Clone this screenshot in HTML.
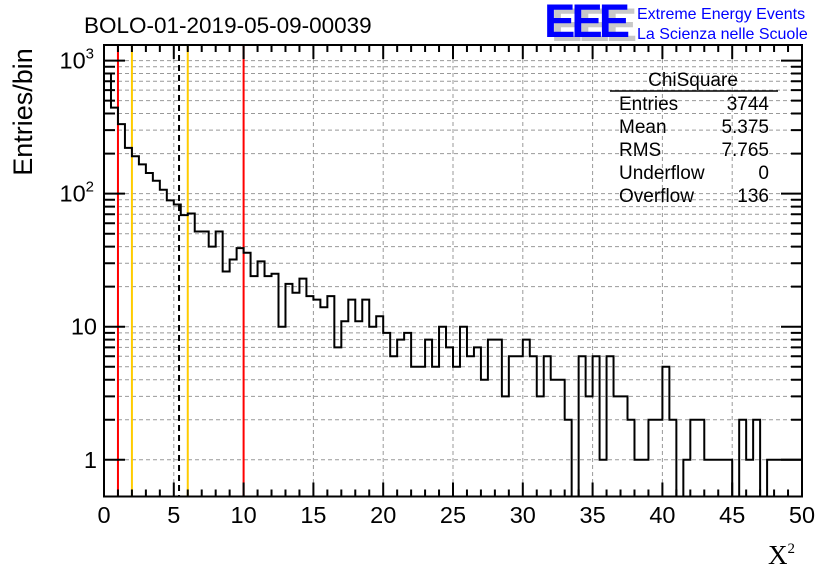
<!DOCTYPE html>
<html><head><meta charset="utf-8"><style>
html,body{margin:0;padding:0;background:#fff;}
svg{display:block;font-family:"Liberation Sans",sans-serif;}
</style></head><body>
<svg id="chart" width="836" height="572" viewBox="0 0 836 572">
<text x="84" y="33" font-size="22.5">BOLO-01-2019-05-09-00039</text>
<g>
<text x="551" y="41" font-size="47" font-weight="bold" fill="#c8c8c8" letter-spacing="-4">EEE</text>
<text x="544" y="37" font-size="47" font-weight="bold" fill="#0000ff" letter-spacing="-4">EEE</text>
<text x="637" y="19" font-size="16" fill="#0000ff">Extreme Energy Events</text>
<text x="637" y="39" font-size="16" fill="#0000ff">La Scienza nelle Scuole</text>
</g>
<g id="grid"></g>
<g id="vlines"></g>
<g id="hist"></g>
<g id="axes"></g>
<g font-size="19">
<text x="693" y="86" text-anchor="middle">ChiSquare</text>
<line x1="610" y1="91" x2="778" y2="91" stroke="#000" stroke-width="1.5"/>
<text x="619" y="110">Entries</text><text x="769" y="110" text-anchor="end">3744</text>
<text x="619" y="133">Mean</text><text x="769" y="133" text-anchor="end">5.375</text>
<text x="619" y="156">RMS</text><text x="769" y="156" text-anchor="end">7.765</text>
<text x="619" y="179">Underflow</text><text x="769" y="179" text-anchor="end">0</text>
<text x="619" y="202">Overflow</text><text x="769" y="202" text-anchor="end">136</text>
</g>
<text transform="translate(32,112) rotate(-90)" text-anchor="middle" font-size="27">Entries/bin</text>
<text x="768" y="564" font-size="27" font-family="Liberation Serif,serif">X<tspan font-size="15" dy="-11">2</tspan></text>
</svg>
<script>
const binCounts = [800,443,333,221,191,166,143,125,107,89,83,69,71,52,52,40,52,26,32,39,36,24,31,24,25,10,21,18,23,17,16,14,17,7,11,16,11,16,10,12,9,6,8,9,5,5,8,5,10,7,5,10,6,7,4,8,8,3,6,6,8,6,3,6,4,4,2,0,6,3,6,1,6,3,3,2,1,1,2,2,5,2,0,1,2,2,1,1,1,1,0,2,1,2,0,1,1,1,1,1];
const binWidth = [0.5];
const xTicks = [0,5,10,15,20,25,30,35,40,45,50];
const yTicks = [1,10,100,1000];
const yTickLabels = ["1","10","10²","10³"];
const markerLines = [[1,"#ff0000"],[2,"#ffcc00"],[5.375,"#000000"],[6,"#ffcc00"],[10,"#ff0000"]];

const L=104,R=802,T=45,B=496.5,X0=0,X1=50,YMIN=0.53,YMAX=1310;
const NS="http://www.w3.org/2000/svg";
const sx=v=>L+(v-X0)/(X1-X0)*(R-L);
const sy=v=>B-(Math.log10(v)-Math.log10(YMIN))/(Math.log10(YMAX)-Math.log10(YMIN))*(B-T);
function mk(tag,attrs,parent){const e=document.createElementNS(NS,tag);for(const k in attrs)e.setAttribute(k,attrs[k]);document.getElementById(parent).appendChild(e);return e;}

for(const t of xTicks){ if(t===X0||t===X1)continue;
 const g=mk('line',{x1:sx(t),x2:sx(t),y1:T,y2:B,stroke:'#999','stroke-width':1,'stroke-dasharray':'4,3'},'grid');
 
 }
for(let d=0;d<=3;d++)for(let m=1;m<=9;m++){const v=m*Math.pow(10,d); if(v<YMIN||v>YMAX)continue;
 const g=mk('line',{x1:L,x2:R,y1:sy(v),y2:sy(v),stroke:'#999','stroke-width':1,'stroke-dasharray':'4,3'},'grid');
 
 }
for(const [v,c] of markerLines){
 const a={x1:sx(v),x2:sx(v),y1:T,y2:B,stroke:c,'stroke-width':2};
 if(c==="#000000")a['stroke-dasharray']='6,4';
 const l=mk('line',a,'vlines');
 
 }
let d='';
for(let i=0;i<binCounts.length;i++){
 const x0=sx(i*binWidth[0]),x1=sx((i+1)*binWidth[0]);
 const y=binCounts[i]>0?Math.max(T,Math.min(B,sy(binCounts[i]))):B;
 if(i===0)d+=`M${x0},${B} `;
 d+=`L${x0},${y} L${x1},${y} `;
}
const hp=mk('path',{d:d,fill:'none',stroke:'#000','stroke-width':2},'hist');


const fr=mk('rect',{x:L,y:T,width:R-L,height:B-T,fill:'none',stroke:'#000','stroke-width':2},'axes');


let tk='';
for(let v=X0;v<=X1;v+=1){const x=sx(v);const len=(v%5===0)?14:7;tk+=`M${x},${B}V${B-len}M${x},${T}V${T+len}`;}
for(let dd=0;dd<=3;dd++)for(let m=1;m<=9;m++){const v=m*Math.pow(10,dd);if(v<YMIN||v>YMAX)continue;const y=sy(v);const len=m===1?21:11;tk+=`M${L},${y}H${L+len}M${R},${y}H${R-len}`;}
const tp=mk('path',{d:tk,stroke:'#000','stroke-width':2,fill:'none'},'axes');


for(const t of xTicks){const e=mk('text',{x:sx(t),y:523,'text-anchor':'middle','font-size':23.5},'axes');e.textContent=String(t);
 
 }
yTicks.forEach((t,i)=>{const e=mk('text',{x:97,y:sy(t)+8,'text-anchor':'end','font-size':23.5},'axes');
 const s=yTickLabels[i];
 if(s.length>2){e.textContent='10';const ts=document.createElementNS(NS,'tspan');ts.setAttribute('font-size','15');ts.setAttribute('dy','-10');ts.textContent=s==='10³'?'3':'2';e.appendChild(ts);e.setAttribute('x',94);}
 else e.textContent=s;
 
 });
</script>
</body></html>
